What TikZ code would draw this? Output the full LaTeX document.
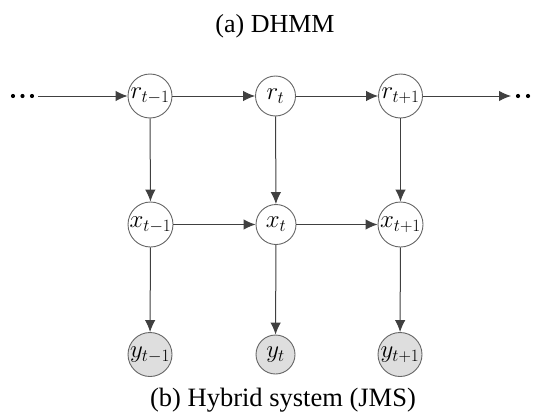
\documentclass[tikz,border=0pt]{standalone}
\usepackage{fontspec}
\setmainfont{Liberation Serif}
\usetikzlibrary{arrows.meta}
\begin{document}
\begin{tikzpicture}[x=1pt,y=-1pt,
  var/.style={circle,draw=black!60,line width=0.9pt,inner sep=0pt,font=\fontsize{24.5}{28}\selectfont},
  obs/.style={var,fill=black!13},
  edge/.style={draw=black!75,line width=1pt,-{Latex[length=12pt,width=10.5pt]}},
  dotn/.style={circle,fill=black,inner sep=0pt,minimum size=4.2pt},
  captext/.style={anchor=base,inner sep=0pt}]
\useasboundingbox (0,0) rectangle (534,412);
% titles
\node[captext,font=\fontsize{26}{30}\selectfont] (ta) at (275,33) {(a) DHMM};
\node[captext,font=\fontsize{26.5}{30}\selectfont] (tb) at (283,406) {(b) Hybrid system (JMS)};
% regime row
\node[var,minimum size=44pt] (r1) at (150,96) {$r_{t-1}$};
\node[var,minimum size=40pt] (r2) at (275.5,96) {$r_t$};
\node[var,minimum size=44pt] (r3) at (400.5,96) {$r_{t+1}$};
% state row
\node[var,minimum size=45pt] (x1) at (150.5,224.5) {$x_{t-1}$};
\node[var,minimum size=40pt] (x2) at (276,224.5) {$x_t$};
\node[var,minimum size=45pt] (x3) at (400.5,224.5) {$x_{t+1}$};
% observation row
\node[obs,minimum size=44pt] (y1) at (150,354.5) {$y_{t-1}$};
\node[obs,minimum size=39pt] (y2) at (275.5,354.5) {$y_t$};
\node[obs,minimum size=44pt] (y3) at (400,354.5) {$y_{t+1}$};
% dots
\node[dotn] (dl1) at (13,96) {};
\node[dotn] (dl2) at (22.5,96) {};
\node[dotn] (dl3) at (32,96) {};
\node[dotn] (dr1) at (518,96) {};
\node[dotn] (dr2) at (528,96) {};
\node[dotn] (dr3) at (538,96) {};
\coordinate (ls) at (38,96);
\coordinate (re) at (511,96);
% edges
\draw[edge] (ls) -- (r1);
\draw[edge] (r1) -- (r2);
\draw[edge] (r2) -- (r3);
\draw[edge] (r3) -- (re);
\draw[edge] (x1) -- (x2);
\draw[edge] (x2) -- (x3);
\draw[edge] (r1) -- (x1);
\draw[edge] (r2) -- (x2);
\draw[edge] (r3) -- (x3);
\draw[edge] (x1) -- (y1);
\draw[edge] (x2) -- (y2);
\draw[edge] (x3) -- (y3);
\end{tikzpicture}
\end{document}
